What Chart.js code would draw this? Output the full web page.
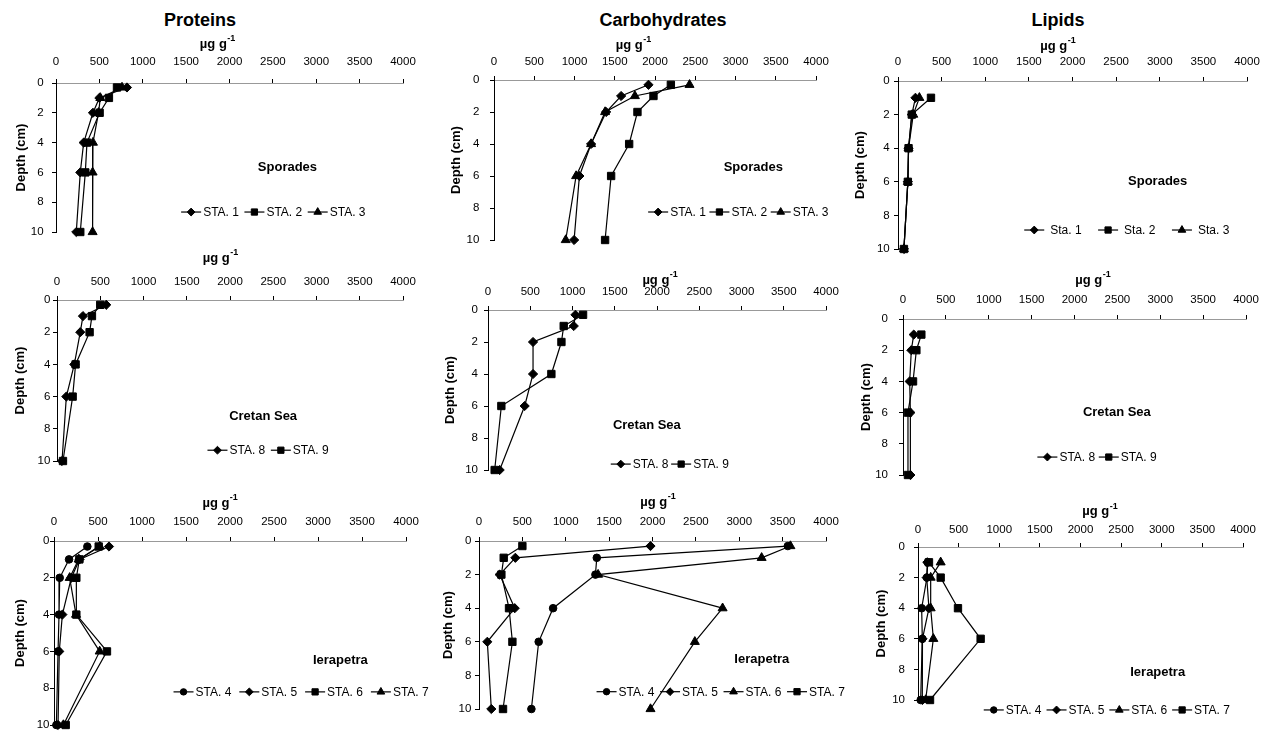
<!DOCTYPE html>
<html><head><meta charset="utf-8">
<script src="https://cdn.jsdelivr.net/npm/chart.js@4.4.0/dist/chart.umd.min.js"></script>
<style>
html,body{margin:0;padding:0;background:#fff}
body{width:1264px;height:731px;position:relative;overflow:hidden;font-family:"Liberation Sans",Arial,sans-serif}
.ttl{position:absolute;font-weight:bold;font-size:18px;color:#000;transform:translate(-50%,-50%);white-space:nowrap}
canvas{position:absolute}
</style></head><body>
<div class="ttl" style="left:200px;top:20px">Proteins</div>
<div class="ttl" style="left:663px;top:20px">Carbohydrates</div>
<div class="ttl" style="left:1058px;top:20px">Lipids</div>
<script>
// ---- data ----
const depthsFull = [0.3, 1, 2, 4, 6, 10];
const depthsLipids = [1, 2, 4, 6, 10];
const xTickValues = [0, 500, 1000, 1500, 2000, 2500, 3000, 3500, 4000];
const depthTickValues = [0, 2, 4, 6, 8, 10];

// Sporades
const protSpoSta1 = [818, 500, 426, 319, 280, 234];
const protSpoSta2 = [703, 610, 503, 357, 338, 280];
const protSpoSta3 = [761, 511, 490, 426, 422, 422];
const carbSpoSta1 = [1919, 1579, 1393, 1206, 1061, 995];
const carbSpoSta2 = [2197, 1981, 1782, 1679, 1455, 1380];
const carbSpoSta3 = [2429, 1750, 1380, 1206, 1020, 891];
const lipSpoSta1 = [200, 158, 121, 113, 68];
const lipSpoSta2 = [378, 158, 121, 113, 68];
const lipSpoSta3 = [245, 175, 121, 113, 68];
// Cretan Sea
const protCreSta8 = [569, 300, 269, 200, 108, 58];
const protCreSta9 = [500, 404, 377, 215, 181, 69];
const carbCreSta8 = [1035, 1015, 533, 533, 434, 138];
const carbCreSta9 = [1125, 896, 869, 750, 158, 79];
const lipCreSta8 = [125, 97, 78, 86, 86];
const lipCreSta9 = [214, 156, 117, 58, 58];
// Ierapetra
const protIerSta4 = [379, 171, 65, 57, 46, 27];
const protIerSta5 = [625, 290, 197, 95, 60, 46];
const protIerSta6 = [508, 288, 254, 254, 602, 133];
const protIerSta7 = [520, 280, 178, 250, 519, 107];
const carbIerSta4 = [3560, 1358, 1342, 854, 688, 604];
const carbIerSta5 = [1977, 419, 238, 412, 96, 142];
const carbIerSta6 = [3590, 3258, 1373, 2808, 2488, 1977];
const carbIerSta7 = [500, 285, 258, 346, 385, 277];
const lipIerSta4 = [120, 110, 45, 53, 33];
const lipIerSta5 = [115, 107, 135, 55, 53];
const lipIerSta6 = [279, 156, 156, 189, 94];
const lipIerSta7 = [135, 279, 492, 771, 148];

// ---- styles ----
const FONT = '"Liberation Sans", Arial, sans-serif';
Chart.defaults.font.family = FONT;
Chart.defaults.color = '#000';
const MARK = {
  diamond: {pointStyle: 'rectRot', r: 4.6},
  square: {pointStyle: 'rect', r: 5.2},
  triangle: {pointStyle: 'triangle', r: 5.2},
  circle: {pointStyle: 'circle', r: 3.8}
};

const panels = [
  {plot:[55.7,83,402.4,232], titleY:44, labelY:62, yGap:12.4, yTitleOff:35, xTitleAt:1860,
   region:'Sporades', regionAt:[2668,5.64], legendAt:[2505,8.66], legendGap:5.5, markGap:2,
   depths:depthsFull, series:[['STA. 1',protSpoSta1,'diamond'],['STA. 2',protSpoSta2,'square'],['STA. 3',protSpoSta3,'triangle']]},
  {plot:[494,80,815.7,240], titleY:45, labelY:62, yGap:14.7, yTitleOff:38, xTitleAt:1729,
   region:'Sporades', regionAt:[3221,5.44], legendAt:[3035,8.25], legendGap:3.5, markGap:2,
   depths:depthsFull, series:[['STA. 1',carbSpoSta1,'diamond'],['STA. 2',carbSpoSta2,'square'],['STA. 3',carbSpoSta3,'triangle']]},
  {plot:[898.3,81,1247.3,249], titleY:46, labelY:62, yGap:8.3, yTitleOff:37.6, xTitleAt:1830,
   region:'Sporades', regionAt:[2976,6.0], legendAt:[2622,8.87], legendGap:16.5, markGap:6,
   depths:depthsLipids, series:[['Sta. 1',lipSpoSta1,'diamond'],['Sta. 2',lipSpoSta2,'square'],['Sta. 3',lipSpoSta3,'triangle']]},
  {plot:[56.7,300,403,460.7], titleY:258, labelY:282, yGap:6.7, yTitleOff:37, xTitleAt:1887,
   region:'Cretan Sea', regionAt:[2383,7.22], legendAt:[2440,9.33], legendGap:5.6, markGap:2,
   depths:depthsFull, series:[['STA. 8',protCreSta8,'diamond'],['STA. 9',protCreSta9,'square']]},
  {plot:[488.3,310,826,470], titleY:280, labelY:292, yGap:10, yTitleOff:38, xTitleAt:2034,
   region:'Cretan Sea', regionAt:[1880,7.19], legendAt:[2152,9.63], legendGap:2.6, markGap:2,
   depths:depthsFull, series:[['STA. 8',carbCreSta8,'diamond'],['STA. 9',carbCreSta9,'square']]},
  {plot:[903.3,319,1246,475], titleY:280, labelY:300, yGap:15, yTitleOff:36.7, xTitleAt:2212,
   region:'Cretan Sea', regionAt:[2494,5.96], legendAt:[2262,8.85], legendGap:3.6, markGap:2,
   depths:depthsLipids, series:[['STA. 8',lipCreSta8,'diamond'],['STA. 9',lipCreSta9,'square']]},
  {plot:[54.3,541,406,725], titleY:503, labelY:522, yGap:4.5, yTitleOff:33.6, xTitleAt:1885,
   region:'Ierapetra', regionAt:[3254,6.47], legendAt:[2808,8.2], legendGap:8, markGap:2,
   depths:depthsFull, series:[['STA. 4',protIerSta4,'circle'],['STA. 5',protIerSta5,'diamond'],['STA. 6',protIerSta6,'square'],['STA. 7',protIerSta7,'triangle']]},
  {plot:[479.3,541,826,709.3], titleY:502, labelY:522, yGap:7.6, yTitleOff:31, xTitleAt:2061,
   region:'Ierapetra', regionAt:[3260,7.07], legendAt:[2786,8.97], legendGap:5.7, markGap:2,
   depths:depthsFull, series:[['STA. 4',carbIerSta4,'circle'],['STA. 5',carbIerSta5,'diamond'],['STA. 6',carbIerSta6,'triangle'],['STA. 7',carbIerSta7,'square']]},
  {plot:[918.3,547.3,1243.3,700], titleY:512, labelY:530, yGap:13, yTitleOff:36.6, xTitleAt:2237,
   region:'Ierapetra', regionAt:[2950,8.23], legendAt:[2324,10.65], legendGap:5, markGap:2,
   depths:depthsLipids, series:[['STA. 4',lipIerSta4,'circle'],['STA. 5',lipIerSta5,'diamond'],['STA. 6',lipIerSta6,'triangle'],['STA. 7',lipIerSta7,'square']]}
];

const annotPlugin = {
  id: 'annot',
  afterDatasetsDraw(chart, args, opts) {
    const p = opts.panel;
    const {ctx} = chart;
    const x = chart.scales.x, y = chart.scales.y;
    ctx.save();
    ctx.fillStyle = '#000'; ctx.strokeStyle = '#000';
    // x-axis title  µg g-1
    ctx.textBaseline = 'middle';
    ctx.font = 'bold 13px ' + FONT;
    const t1 = 'µg g';
    const w1 = ctx.measureText(t1).width;
    ctx.font = 'bold 9px ' + FONT;
    const t2 = '-1';
    const w2 = ctx.measureText(t2).width;
    const tx = x.getPixelForValue(p.xTitleAt) - (w1 + w2) / 2;
    const ty = p.titleY - p.plot[1] + chart.chartArea.top;
    ctx.textAlign = 'left';
    ctx.font = 'bold 13px ' + FONT;
    ctx.fillText(t1, tx, ty);
    ctx.font = 'bold 9px ' + FONT;
    ctx.fillText(t2, tx + w1 + 0.5, ty - 5);
    // region label
    ctx.font = 'bold 13px ' + FONT;
    ctx.textAlign = 'center';
    ctx.fillText(p.region, x.getPixelForValue(p.regionAt[0]), y.getPixelForValue(p.regionAt[1]));
    // legend
    ctx.font = '12px ' + FONT;
    const lineLen = 20;
    const items = chart.data.datasets.map(ds => ({label: ds.label, style: ds.pointStyle, r: ds.pointRadius, w: ctx.measureText(ds.label).width}));
    const total = items.reduce((s, it) => s + lineLen + p.markGap + it.w, 0) + p.legendGap * (items.length - 1);
    let cx = x.getPixelForValue(p.legendAt[0]) - total / 2;
    const cy = y.getPixelForValue(p.legendAt[1]);
    ctx.textAlign = 'left';
    items.forEach(it => {
      ctx.lineWidth = 1.2;
      ctx.beginPath(); ctx.moveTo(cx, cy); ctx.lineTo(cx + lineLen, cy); ctx.stroke();
      ctx.lineWidth = 1;
      Chart.helpers.drawPoint(ctx, {pointStyle: it.style, radius: it.r * 0.85, borderWidth: 1, rotation: 0}, cx + lineLen / 2, cy);
      ctx.fillText(it.label, cx + lineLen + p.markGap, cy + 0.5);
      cx += lineLen + p.markGap + it.w + p.legendGap;
    });
    ctx.restore();
  }
};

function makePanel(p) {
  const [L, T, R, B] = p.plot;
  const mL = 60, mT = 56, mR = 60, mB = 22;
  const yW = 46, xH = 40, tickLen = 4;
  const w = Math.round(R - L + mL + mR), h = Math.round(B - T + mT + mB);
  const cv = document.createElement('canvas');
  cv.width = w; cv.height = h;
  cv.style.width = w + 'px'; cv.style.height = h + 'px';
  cv.style.left = (L - mL) + 'px'; cv.style.top = (T - mT) + 'px';
  document.body.appendChild(cv);
  const datasets = p.series.map(([label, vals, mk]) => ({
    label,
    data: vals.map((v, i) => ({x: v, y: p.depths[i]})),
    showLine: true,
    borderColor: '#000', backgroundColor: '#000',
    borderWidth: 1.2,
    pointStyle: MARK[mk].pointStyle, pointRadius: MARK[mk].r,
    pointBorderWidth: 1, pointBorderColor: '#000', pointBackgroundColor: '#000',
    clip: false
  }));
  new Chart(cv, {
    type: 'scatter',
    data: {datasets},
    plugins: [annotPlugin],
    options: {
      responsive: false, animation: false, devicePixelRatio: 1,
      layout: {padding: {left: mL - yW, top: mT - xH, right: mR, bottom: mB}},
      plugins: {legend: {display: false}, tooltip: {enabled: false}, annot: {panel: p}},
      scales: {
        x: {
          type: 'linear', position: 'top', min: 0, max: 4000,
          afterBuildTicks: s => { s.ticks = xTickValues.map(v => ({value: v})); },
          afterFit: s => { s.height = xH; },
          grid: {drawOnChartArea: false, drawTicks: true, tickLength: tickLen, color: '#000'},
          border: {color: '#999', width: 1},
          ticks: {font: {size: 11.5}, color: '#000', padding: (T - p.labelY) - tickLen - 6.9, maxRotation: 0, autoSkip: false,
                  callback: v => String(v)},
          title: {display: false}
        },
        y: {
          type: 'linear', reverse: true, min: 0, max: 10,
          afterBuildTicks: s => { s.ticks = depthTickValues.map(v => ({value: v})); },
          afterFit: s => { s.width = yW; },
          grid: {drawOnChartArea: false, drawTicks: true, tickLength: tickLen, color: '#000'},
          border: {color: '#000', width: 1},
          ticks: {font: {size: 11.5}, color: '#000', padding: Math.max(0, p.yGap - tickLen), callback: v => String(v)},
          title: {display: true, text: 'Depth (cm)', font: {size: 13, weight: 'bold'}, color: '#000',
                  padding: {top: Math.max(0, yW - p.yTitleOff - 7.8), bottom: 0}}
        }
      }
    }
  });
}
panels.forEach(makePanel);
</script>
</body></html>
